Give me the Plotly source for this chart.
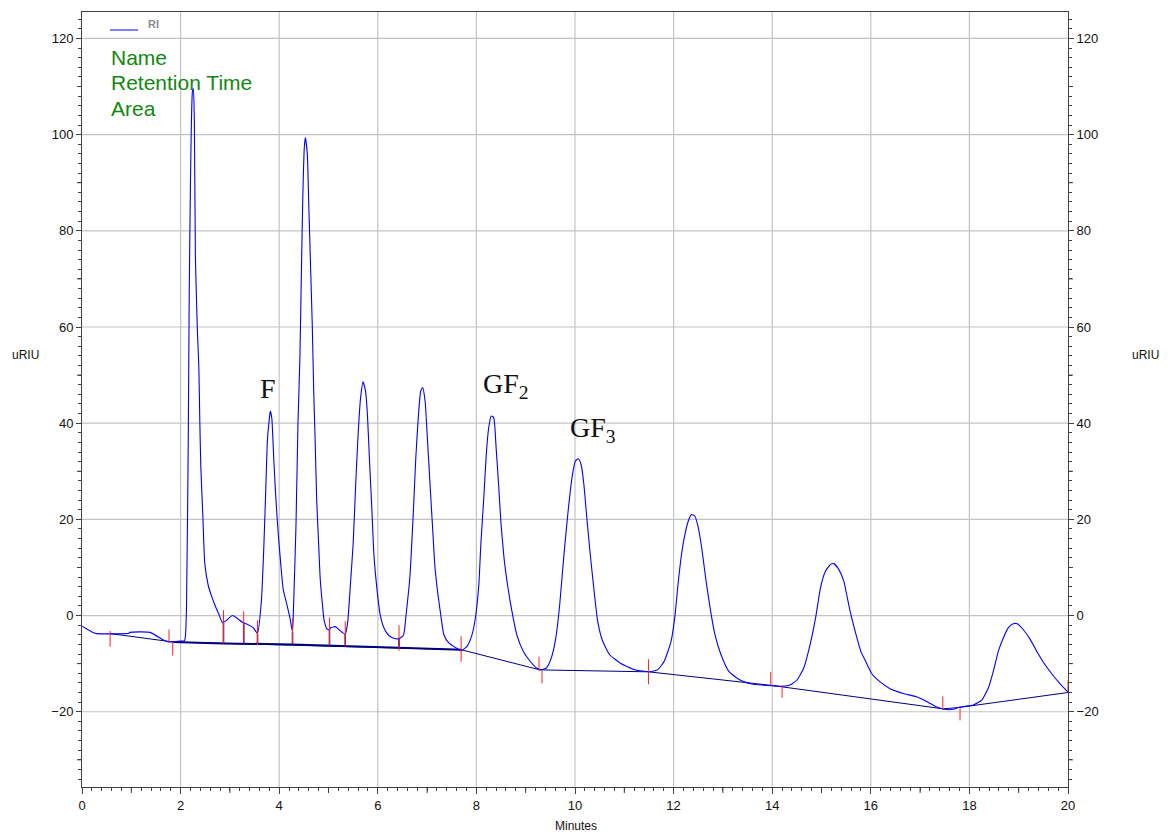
import plotly.graph_objects as go

# ---------------- data ----------------
time_min = [
    0.00, 0.22, 0.30, 0.95, 0.97, 1.38, 1.65, 1.75, 1.99, 2.08, 2.10, 2.12, 2.155, 2.175,
    2.20, 2.22, 2.24, 2.26, 2.28, 2.30, 2.34, 2.37, 2.39, 2.41, 2.45, 2.49, 2.56, 2.63,
    2.70, 2.78, 2.85, 2.93, 3.05, 3.14, 3.27, 3.35, 3.47, 3.56, 3.64, 3.69, 3.73, 3.76,
    3.80, 3.82, 3.85, 3.89, 3.93, 3.98, 4.03, 4.08, 4.15, 4.22, 4.27, 4.29, 4.34, 4.38,
    4.42, 4.45, 4.48, 4.51, 4.53, 4.57, 4.60, 4.64, 4.67, 4.70, 4.73, 4.76, 4.80, 4.83,
    4.87, 4.91, 4.97, 5.02, 5.05, 5.14, 5.22, 5.34, 5.39, 5.44, 5.50, 5.55, 5.60, 5.65,
    5.70, 5.75, 5.79, 5.83, 5.88, 5.92, 5.98, 6.05, 6.13, 6.22, 6.32, 6.43, 6.52, 6.58,
    6.65, 6.72, 6.77, 6.82, 6.87, 6.91, 6.96, 7.01, 7.07, 7.11, 7.16, 7.22, 7.28, 7.34,
    7.44, 7.58, 7.69, 7.81, 7.91, 7.98, 8.05, 8.09, 8.15, 8.20, 8.25, 8.30, 8.35, 8.40,
    8.45, 8.50, 8.56, 8.63, 8.72, 8.82, 8.95, 9.09, 9.22, 9.32, 9.42, 9.52, 9.61, 9.69,
    9.77, 9.86, 9.95, 10.01, 10.07, 10.13, 10.18, 10.24, 10.31, 10.38, 10.46, 10.56,
    10.70, 10.92, 11.21, 11.51, 11.68, 11.81, 11.95, 12.03, 12.09, 12.16, 12.23, 12.30,
    12.36, 12.43, 12.50, 12.57, 12.65, 12.74, 12.84, 12.96, 13.12, 13.33, 13.56, 13.83,
    14.00, 14.20, 14.37, 14.51, 14.64, 14.77, 14.88, 14.98, 15.08, 15.18, 15.25, 15.35,
    15.45, 15.58, 15.72, 15.80, 15.89, 16.02, 16.19, 16.39, 16.66, 16.93, 17.14, 17.34,
    17.49, 17.68, 17.81, 18.08, 18.25, 18.39, 18.49, 18.59, 18.69, 18.79, 18.89, 18.97,
    19.09, 19.23, 19.36, 19.50, 19.67, 19.84, 20.00,
]
signal_uriu = [
    -2.2, -3.5, -3.75, -3.7, -3.5, -3.5, -5.1, -5.5, -5.3, -5.2, -4.0, 2.1, 36.0, 67.0,
    90.0, 103.0, 109.0, 109.6, 101.8, 74.8, 59.4, 51.7, 40.2, 31.0, 21.0, 10.9, 6.3, 4.0,
    2.1, 0.15, -1.5, -1.0, 0.0, -0.5, -1.5, -1.8, -2.5, -3.7, 3.2, 14.8, 27.0, 36.3,
    41.0, 42.5, 41.0, 32.5, 24.8, 17.1, 10.9, 5.5, 2.5, -0.6, -3.4, 1.6, 18.5, 39.6,
    53.7, 71.3, 87.5, 97.4, 99.4, 96.0, 85.4, 71.3, 60.7, 46.7, 36.1, 24.1, 14.9, 7.9,
    3.0, -0.9, -2.8, -2.9, -2.5, -2.3, -3.0, -3.9, -1.3, 5.8, 14.9, 26.9, 37.5, 45.2,
    48.6, 46.7, 41.7, 32.6, 22.0, 12.8, 5.8, 0.1, -2.7, -4.1, -4.7, -4.8, -4.1, 0.8,
    7.9, 21.3, 32.6, 41.0, 46.7, 47.4, 44.5, 36.1, 25.5, 18.5, 10.0, 4.4, -0.1, -4.0,
    -5.7, -6.7, -7.3, -6.4, -4.0, -0.5, 6.5, 14.8, 24.5, 33.5, 39.1, 41.5, 41.2, 34.9,
    27.3, 19.0, 12.0, 6.5, 0.9, -4.0, -7.4, -9.5, -10.9, -11.25, -10.9, -8.8, -4.7, 2.3,
    12.0, 21.7, 29.4, 32.2, 32.6, 31.1, 27.3, 20.3, 12.7, 5.8, -1.2, -5.3,
    -8.1, -9.9, -11.25, -11.7, -11.25, -9.5, -5.3, 0.2, 6.5, 12.7, 16.9, 19.7,
    21.0, 20.7, 18.3, 14.1, 7.8, 1.6, -4.0, -8.1, -11.6, -13.3, -14.2, -14.5,
    -14.6, -14.7, -14.4, -13.3, -10.9, -6.0, -0.5, 5.8, 9.2, 10.6, 10.8, 9.6,
    7.2, 0.9, -4.7, -7.5, -9.4, -12.1, -13.8, -15.2, -16.2, -16.9, -17.9, -19.0,
    -19.5, -19.5, -19.0, -18.6, -17.6, -14.9, -11.4, -7.3, -4.6, -2.5, -1.7, -1.7,
    -2.9, -4.9, -7.3, -9.7, -12.1, -14.2, -15.9,
]

# integration baseline (thin part and the heavy part between 1.85 and 7.69 min)
baseline_t = [0.57, 1.76, 1.85, 7.69, 9.29, 11.49, 13.97, 17.47, 17.80, 20.00]
baseline_v = [-3.75, -5.4, -5.5, -7.1, -11.3, -11.7, -14.5, -19.4, -19.1, -16.0]
heavy_baseline_t = [1.85, 2.87, 4.27, 5.34, 6.43, 7.69]
heavy_baseline_v = [-5.5, -5.8, -6.0, -6.4, -6.7, -7.1]

# drop lines from valleys to the baseline
drop_t = [2.87, 3.28, 3.56, 4.27, 5.02, 5.34, 6.43]
drop_top = [-1.5, -1.5, -3.7, -3.4, -2.9, -3.9, -4.8]
drop_bottom = [-5.8, -5.9, -5.95, -6.0, -6.25, -6.4, -6.7]

# red peak start/end markers
mark_t = [0.57, 1.765, 1.84, 2.87, 3.28, 3.56, 4.27, 5.02, 5.34, 6.43, 7.69,
          9.27, 9.33, 11.49, 13.97, 14.20, 17.46, 17.81, 20.00]
mark_top = [-3.2, -2.9, -5.5, 1.1, 0.9, -1.0, -0.6, -0.4, -1.2, -2.0, -4.3,
            -8.6, -11.5, -9.1, -11.7, -14.5, -16.8, -19.2, -13.5]
mark_bottom = [-6.5, -5.5, -8.3, -5.8, -5.8, -6.2, -5.8, -6.2, -6.4, -7.3, -9.6,
               -11.5, -14.1, -14.3, -14.5, -17.1, -19.5, -21.8, -16.0]

x_label_vals = list(range(0, 21, 2))
x_mid_ticks = list(range(1, 20, 2))
y_label_vals = list(range(-20, 121, 20))
y_mid_ticks = [-30, -10, 10, 30, 50, 70, 90, 110]
x_grid = [2, 4, 6, 8, 10, 12, 14, 16, 18]
y_grid = [-20, 0, 20, 40, 60, 80, 100, 120]

peak_names = ["F", "GF<sub>2</sub>", "GF<sub>3</sub>"]
peak_name_t = [3.77, 8.09, 9.85]
peak_name_v = [47.3, 47.9, 38.7]
info_lines = ["Name", "Retention Time", "Area"]

# ---------------- figure ----------------
Y_RANGE = [-35.65, 125.5]
FONT = "Liberation Sans, Arial, sans-serif"
AX = "#404040"

W, H = 1168, 834
ML, MR, MT, MB = 82, 100, 12, 47
PW, PH = W - ML - MR, H - MT - MB


def px(x):
    return (x - ML) / PW


def py(y):
    return (H - MB - y) / PH


def seg_xy(ts, tops, bots):
    xs, ys = [], []
    for t, a, b in zip(ts, tops, bots):
        xs += [t, t, None]
        ys += [a, b, None]
    return xs, ys


fig = go.Figure()

fig.add_trace(go.Scatter(x=baseline_t, y=baseline_v, mode="lines",
                         line=dict(color="#00007a", width=1), hoverinfo="skip"))
fig.add_trace(go.Scatter(x=heavy_baseline_t, y=heavy_baseline_v, mode="lines",
                         line=dict(color="#00007a", width=2), hoverinfo="skip"))
dx, dy = seg_xy(drop_t, drop_top, drop_bottom)
fig.add_trace(go.Scatter(x=dx, y=dy, mode="lines",
                         line=dict(color="#00007a", width=1.5), hoverinfo="skip"))
fig.add_trace(go.Scatter(x=time_min, y=signal_uriu, mode="lines", name="RI",
                         line=dict(color="#0000ff", width=1.1, shape="spline",
                                   smoothing=0.5)))
mx, my = seg_xy(mark_t, mark_top, mark_bottom)
fig.add_trace(go.Scatter(x=mx, y=my, mode="lines", yaxis="y2",
                         line=dict(color="#ff2020", width=1), hoverinfo="skip"))

for g in x_grid:
    fig.add_shape(type="line", xref="x", yref="paper", x0=g, x1=g, y0=0, y1=1,
                  line=dict(color="#c4c4c4", width=1.2), layer="below")
for g in y_grid:
    fig.add_shape(type="line", xref="paper", yref="y", x0=0, x1=1, y0=g, y1=g,
                  line=dict(color="#c4c4c4", width=1.2), layer="below")

# intermediate (unlabelled) major ticks
for g in x_mid_ticks:
    fig.add_shape(type="line", xref="x", yref="paper", x0=g, x1=g, y0=0, y1=-6 / PH,
                  line=dict(color=AX, width=1))
for g in y_mid_ticks:
    fig.add_shape(type="line", xref="paper", yref="y", x0=0, x1=-5 / PW, y0=g, y1=g,
                  line=dict(color=AX, width=1))
    fig.add_shape(type="line", xref="paper", yref="y", x0=1, x1=1 + 5 / PW, y0=g, y1=g,
                  line=dict(color=AX, width=1))

yaxis_common = dict(range=Y_RANGE, tickmode="array", tickvals=y_label_vals,
                    ticks="outside", ticklen=5, tickwidth=1,
                    tickcolor=AX, showline=True, linecolor=AX, linewidth=1,
                    showgrid=False, zeroline=False,
                    minor=dict(dtick=2, tick0=0, ticks="outside", ticklen=3,
                               tickcolor=AX, showgrid=False),
                    tickfont=dict(family=FONT, size=13, color="#111"))

fig.update_layout(
    width=W, height=H,
    margin=dict(l=ML, r=MR, t=MT, b=MB),
    paper_bgcolor="white", plot_bgcolor="white",
    showlegend=False,
    xaxis=dict(range=[0, 20], tickmode="array", tickvals=x_label_vals,
               ticks="outside", ticklen=6, tickwidth=1, tickcolor=AX,
               showline=True, mirror=True, linecolor=AX, linewidth=1,
               showgrid=False, zeroline=False,
               minor=dict(dtick=0.2, tick0=0, ticks="outside", ticklen=3,
                          tickcolor=AX, showgrid=False),
               tickfont=dict(family=FONT, size=13, color="#111")),
    yaxis=dict(side="left", **yaxis_common),
    yaxis2=dict(side="right", overlaying="y", **yaxis_common),
)

ann = []
ann.append(dict(text="uRIU", x=px(25), y=py(355), xanchor="center", yanchor="middle",
                font=dict(family=FONT, size=12, color="#111")))
ann.append(dict(text="uRIU", x=px(1145), y=py(355), xanchor="center", yanchor="middle",
                font=dict(family=FONT, size=12, color="#111")))
ann.append(dict(text="Minutes", x=px(576), y=py(826), xanchor="center", yanchor="middle",
                font=dict(family=FONT, size=12, color="#111")))
ann.append(dict(text="<b>RI</b>", x=px(146), y=py(24), xanchor="left", yanchor="middle",
                font=dict(family=FONT, size=11, color="#8c8c8c")))
for line, yy in zip(info_lines, [58, 83, 108]):
    ann.append(dict(text=line, x=px(109), y=py(yy), xanchor="left", yanchor="middle",
                    font=dict(family=FONT, size=21, color="#118811")))
for name, t, v in zip(peak_names, peak_name_t, peak_name_v):
    ann.append(dict(text=name, x=t, y=v, xref="x", yref="y",
                    xanchor="center" if name == "F" else "left", yanchor="middle",
                    font=dict(family="Liberation Serif, Times New Roman, serif", size=28,
                              color="#111")))
for a in ann:
    a.setdefault("xref", "paper")
    a.setdefault("yref", "paper")
    a["showarrow"] = False
fig.update_layout(annotations=ann)

fig.add_shape(type="line", xref="paper", yref="paper", x0=px(110), x1=px(138),
              y0=py(30), y1=py(30), line=dict(color="#0000ff", width=1))

fig.write_html("out.html")
